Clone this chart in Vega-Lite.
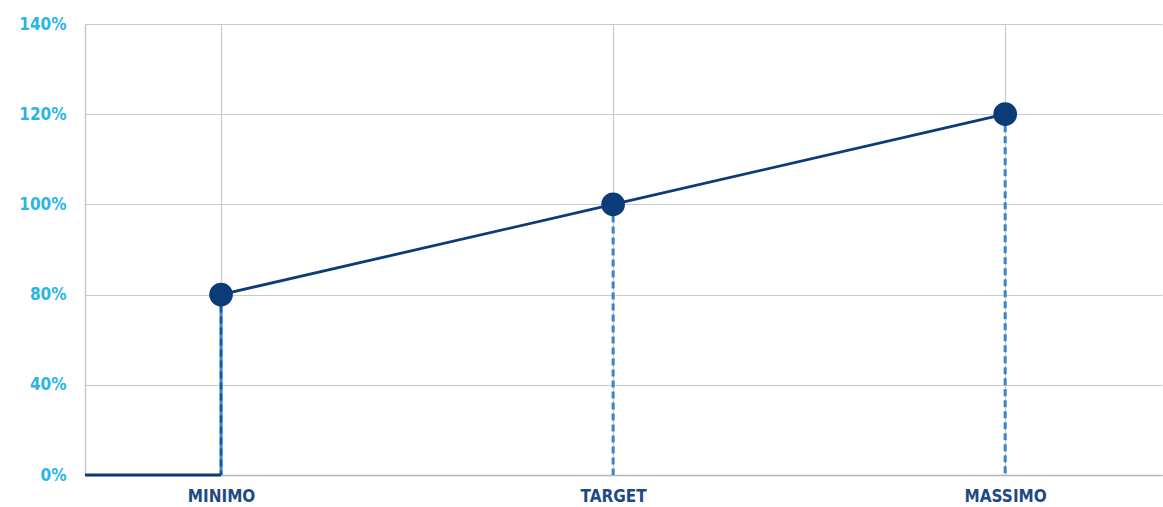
{
  "$schema": "https://vega.github.io/schema/vega-lite/v6.json",
  "width": 1077,
  "height": 451,
  "autosize": {"type": "none"},
  "padding": {"left": 85, "top": 24, "right": 1, "bottom": 32},
  "background": "white",
  "config": {
    "view": {"stroke": null},
    "font": "'DejaVu Sans Condensed', Roboto, sans-serif"
  },
  "datasets": {
    "linea": [
      {"seg": "a", "ord": 1, "x": 73.06, "y": 0},
      {"seg": "a", "ord": 2, "x": 80, "y": 0},
      {"seg": "b", "ord": 3, "x": 80, "y": 80},
      {"seg": "b", "ord": 4, "x": 100, "y": 100},
      {"seg": "b", "ord": 5, "x": 120, "y": 120}
    ],
    "punti": [
      {"livello": "MINIMO", "x": 80, "y": 80},
      {"livello": "TARGET", "x": 100, "y": 100},
      {"livello": "MASSIMO", "x": 120, "y": 120}
    ]
  },
  "encoding": {
    "x": {
      "field": "x", "type": "quantitative",
      "scale": {"domain": [73.06, 128], "nice": false, "zero": false},
      "axis": {
        "values": [80, 100, 120],
        "labelExpr": "datum.value == 80 ? 'MINIMO' : datum.value == 100 ? 'TARGET' : 'MASSIMO'",
        "title": null, "ticks": false, "domainColor": "#b5b5b5", "domainWidth": 1.5,
        "gridColor": "#c9c9c9", "gridWidth": 1.2,
        "labelColor": "#1d4a86", "labelFontSize": 17, "labelFontWeight": 600, "labelPadding": 13,
        "labelFont": "'DejaVu Sans Condensed', Roboto, sans-serif"
      }
    },
    "y": {
      "field": "y", "type": "quantitative",
      "scale": {"domain": [0, 40, 80, 100, 120, 140], "range": [451, 360.8, 270.6, 180.4, 90.2, 0], "nice": false, "zero": false},
      "axis": {
        "values": [0, 40, 80, 100, 120, 140],
        "labelExpr": "datum.value + '%'",
        "title": null, "ticks": false, "domainColor": "#c9c9c9", "domainWidth": 1.5,
        "gridColor": "#c9c9c9", "gridWidth": 1.2,
        "labelColor": "#2bb4e6", "labelFontSize": 17, "labelFontWeight": 600, "labelPadding": 19,
        "labelFont": "'DejaVu Sans Condensed', Roboto, sans-serif"
      }
    }
  },
  "layer": [
    {
      "data": {"name": "punti"},
      "transform": [{"filter": "datum.livello == 'MINIMO'"}],
      "mark": {"type": "rule", "color": "#3585cc", "strokeWidth": 3},
      "encoding": {"y2": {"datum": 0}}
    },
    {
      "data": {"name": "punti"},
      "mark": {"type": "rule", "color": "#3585cc", "strokeWidth": 3, "strokeDash": [7, 4]},
      "encoding": {"y2": {"datum": 0}}
    },
    {
      "data": {"name": "punti"},
      "transform": [{"filter": "datum.livello == 'MINIMO'"}],
      "mark": {"type": "rule", "color": "#0b3c78", "strokeWidth": 1.2, "strokeDash": [7, 4]},
      "encoding": {"y2": {"datum": 0}}
    },
    {
      "data": {"name": "linea"},
      "mark": {"type": "line", "color": "#0b3c78", "strokeWidth": 2.8},
      "encoding": {
        "detail": {"field": "seg"},
        "order": {"field": "ord"}
      }
    },
    {
      "data": {"name": "punti"},
      "mark": {"type": "circle", "color": "#0b3c78", "opacity": 1, "size": 560}
    }
  ]
}
